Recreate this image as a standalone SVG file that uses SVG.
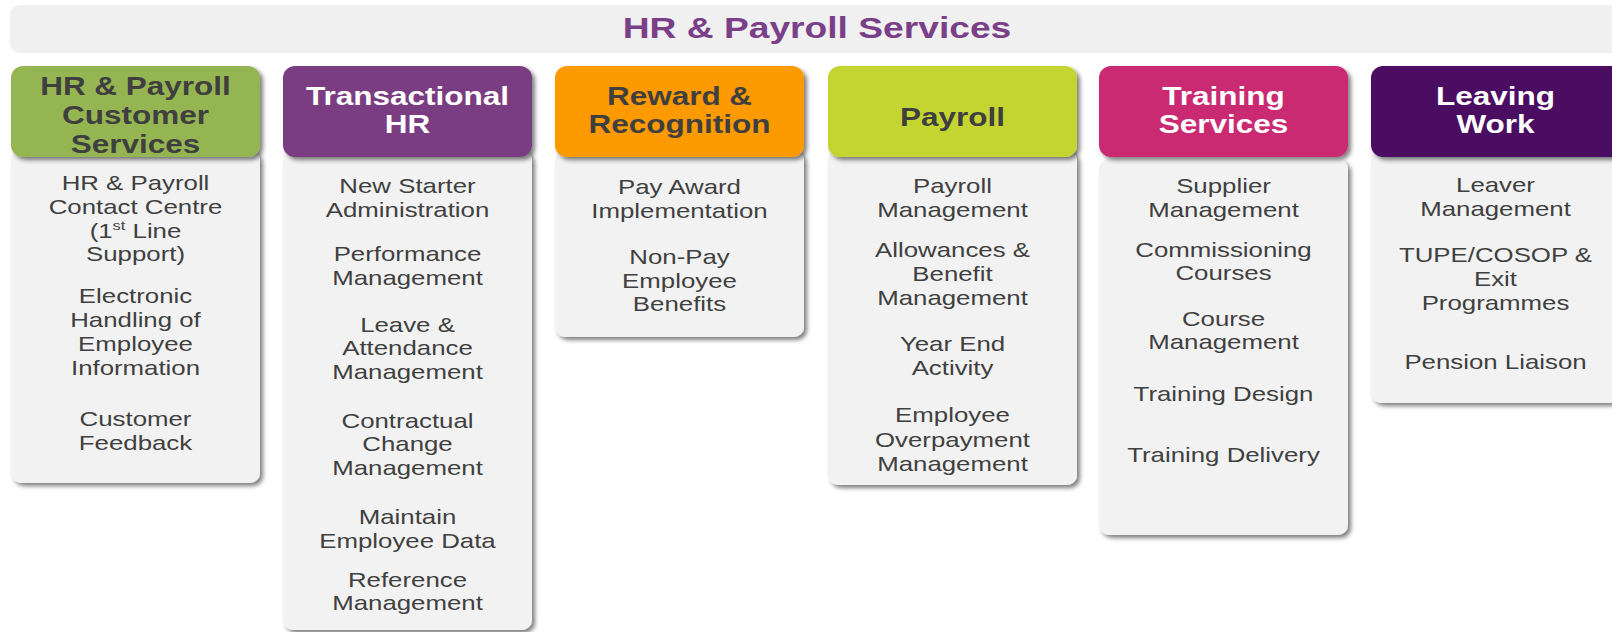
<svg xmlns="http://www.w3.org/2000/svg" width="1612" height="632" viewBox="0 0 1612 632">
<defs>
<filter id="sh" x="-10%" y="-10%" width="130%" height="130%">
<feDropShadow dx="3" dy="3" stdDeviation="2" flood-color="#000" flood-opacity="0.5"/>
</filter>
<style>
.body{fill:#f2f2f2;filter:url(#sh)}
.hd{filter:url(#sh)}
.ht{font-family:"Liberation Sans",Arial,sans-serif;font-weight:bold;font-size:25px;text-anchor:middle}
.dark{fill:#3f3f3f}
.light{fill:#ffffff}
.bt{font-family:"Liberation Sans",Arial,sans-serif;font-size:20.5px;fill:#404040;text-anchor:middle}
.title{font-family:"Liberation Sans",Arial,sans-serif;font-weight:bold;font-size:30px;fill:#7b3f8a;text-anchor:middle}
</style>
</defs>
<rect width="1612" height="632" fill="#ffffff"/>
<g id="banner">
<rect x="10" y="5" width="1630" height="48" rx="10" fill="#f0f0f0"/>
<text class="title" transform="translate(817 0) scale(1.24 1)" x="0" y="38">HR &amp; Payroll Services</text>
</g>

<g id="col1">
<rect class="body" x="11" y="150" width="249" height="333" rx="10"/>
<rect class="hd" x="11" y="66" width="249" height="91" rx="12" fill="#95b552"/>
<g transform="translate(135.5 0) scale(1.26 1)">
<text class="ht dark" x="0" y="95">HR &amp; Payroll</text>
<text class="ht dark" x="0" y="124">Customer</text>
<text class="ht dark" x="0" y="153">Services</text>
<text class="bt" x="0" y="190">HR &amp; Payroll</text>
<text class="bt" x="0" y="214">Contact Centre</text>
<text class="bt" x="0" y="238">(1<tspan font-size="13px" dy="-8">st</tspan><tspan dy="8"> Line</tspan></text>
<text class="bt" x="0" y="261">Support)</text>
<text class="bt" x="0" y="303">Electronic</text>
<text class="bt" x="0" y="327">Handling of</text>
<text class="bt" x="0" y="351">Employee</text>
<text class="bt" x="0" y="375">Information</text>
<text class="bt" x="0" y="426">Customer</text>
<text class="bt" x="0" y="450">Feedback</text>
</g>
</g>

<g id="col2">
<rect class="body" x="283" y="150" width="249" height="480" rx="10"/>
<rect class="hd" x="283" y="66" width="249" height="91" rx="12" fill="#7a3e82"/>
<g transform="translate(407.5 0) scale(1.26 1)">
<text class="ht light" x="0" y="105">Transactional</text>
<text class="ht light" x="0" y="133">HR</text>
<text class="bt" x="0" y="193">New Starter</text>
<text class="bt" x="0" y="217">Administration</text>
<text class="bt" x="0" y="261">Performance</text>
<text class="bt" x="0" y="285">Management</text>
<text class="bt" x="0" y="332">Leave &amp;</text>
<text class="bt" x="0" y="355">Attendance</text>
<text class="bt" x="0" y="379">Management</text>
<text class="bt" x="0" y="428">Contractual</text>
<text class="bt" x="0" y="451">Change</text>
<text class="bt" x="0" y="475">Management</text>
<text class="bt" x="0" y="524">Maintain</text>
<text class="bt" x="0" y="548">Employee Data</text>
<text class="bt" x="0" y="587">Reference</text>
<text class="bt" x="0" y="610">Management</text>
</g>
</g>

<g id="col3">
<rect class="body" x="555" y="150" width="249" height="187" rx="10"/>
<rect class="hd" x="555" y="66" width="249" height="91" rx="12" fill="#fd9a03"/>
<g transform="translate(679.5 0) scale(1.26 1)">
<text class="ht dark" x="0" y="105">Reward &amp;</text>
<text class="ht dark" x="0" y="133">Recognition</text>
<text class="bt" x="0" y="194">Pay Award</text>
<text class="bt" x="0" y="218">Implementation</text>
<text class="bt" x="0" y="264">Non-Pay</text>
<text class="bt" x="0" y="288">Employee</text>
<text class="bt" x="0" y="311">Benefits</text>
</g>
</g>

<g id="col4">
<rect class="body" x="828" y="150" width="249" height="335" rx="10"/>
<rect class="hd" x="828" y="66" width="249" height="91" rx="12" fill="#c4d533"/>
<g transform="translate(952.5 0) scale(1.26 1)">
<text class="ht dark" x="0" y="126">Payroll</text>
<text class="bt" x="0" y="193">Payroll</text>
<text class="bt" x="0" y="217">Management</text>
<text class="bt" x="0" y="257">Allowances &amp;</text>
<text class="bt" x="0" y="281">Benefit</text>
<text class="bt" x="0" y="305">Management</text>
<text class="bt" x="0" y="351">Year End</text>
<text class="bt" x="0" y="375">Activity</text>
<text class="bt" x="0" y="422">Employee</text>
<text class="bt" x="0" y="447">Overpayment</text>
<text class="bt" x="0" y="471">Management</text>
</g>
</g>

<g id="col5">
<rect class="body" x="1099" y="159" width="249" height="376" rx="10"/>
<rect class="hd" x="1099" y="66" width="249" height="91" rx="12" fill="#ca2c71"/>
<g transform="translate(1223.5 0) scale(1.26 1)">
<text class="ht light" x="0" y="105">Training</text>
<text class="ht light" x="0" y="133">Services</text>
<text class="bt" x="0" y="193">Supplier</text>
<text class="bt" x="0" y="217">Management</text>
<text class="bt" x="0" y="257">Commissioning</text>
<text class="bt" x="0" y="280">Courses</text>
<text class="bt" x="0" y="326">Course</text>
<text class="bt" x="0" y="349">Management</text>
<text class="bt" x="0" y="401">Training Design</text>
<text class="bt" x="0" y="462">Training Delivery</text>
</g>
</g>

<g id="col6">
<rect class="body" x="1371" y="150" width="260" height="253" rx="10"/>
<rect class="hd" x="1371" y="66" width="260" height="91" rx="12" fill="#4c1062"/>
<g transform="translate(1495.5 0) scale(1.26 1)">
<text class="ht light" x="0" y="105">Leaving</text>
<text class="ht light" x="0" y="133">Work</text>
<text class="bt" x="0" y="192">Leaver</text>
<text class="bt" x="0" y="216">Management</text>
<text class="bt" x="0" y="262">TUPE/COSOP &amp;</text>
<text class="bt" x="0" y="286">Exit</text>
<text class="bt" x="0" y="310">Programmes</text>
<text class="bt" x="0" y="369">Pension Liaison</text>
</g>
</g>
<g id="connectors"/>
</svg>
